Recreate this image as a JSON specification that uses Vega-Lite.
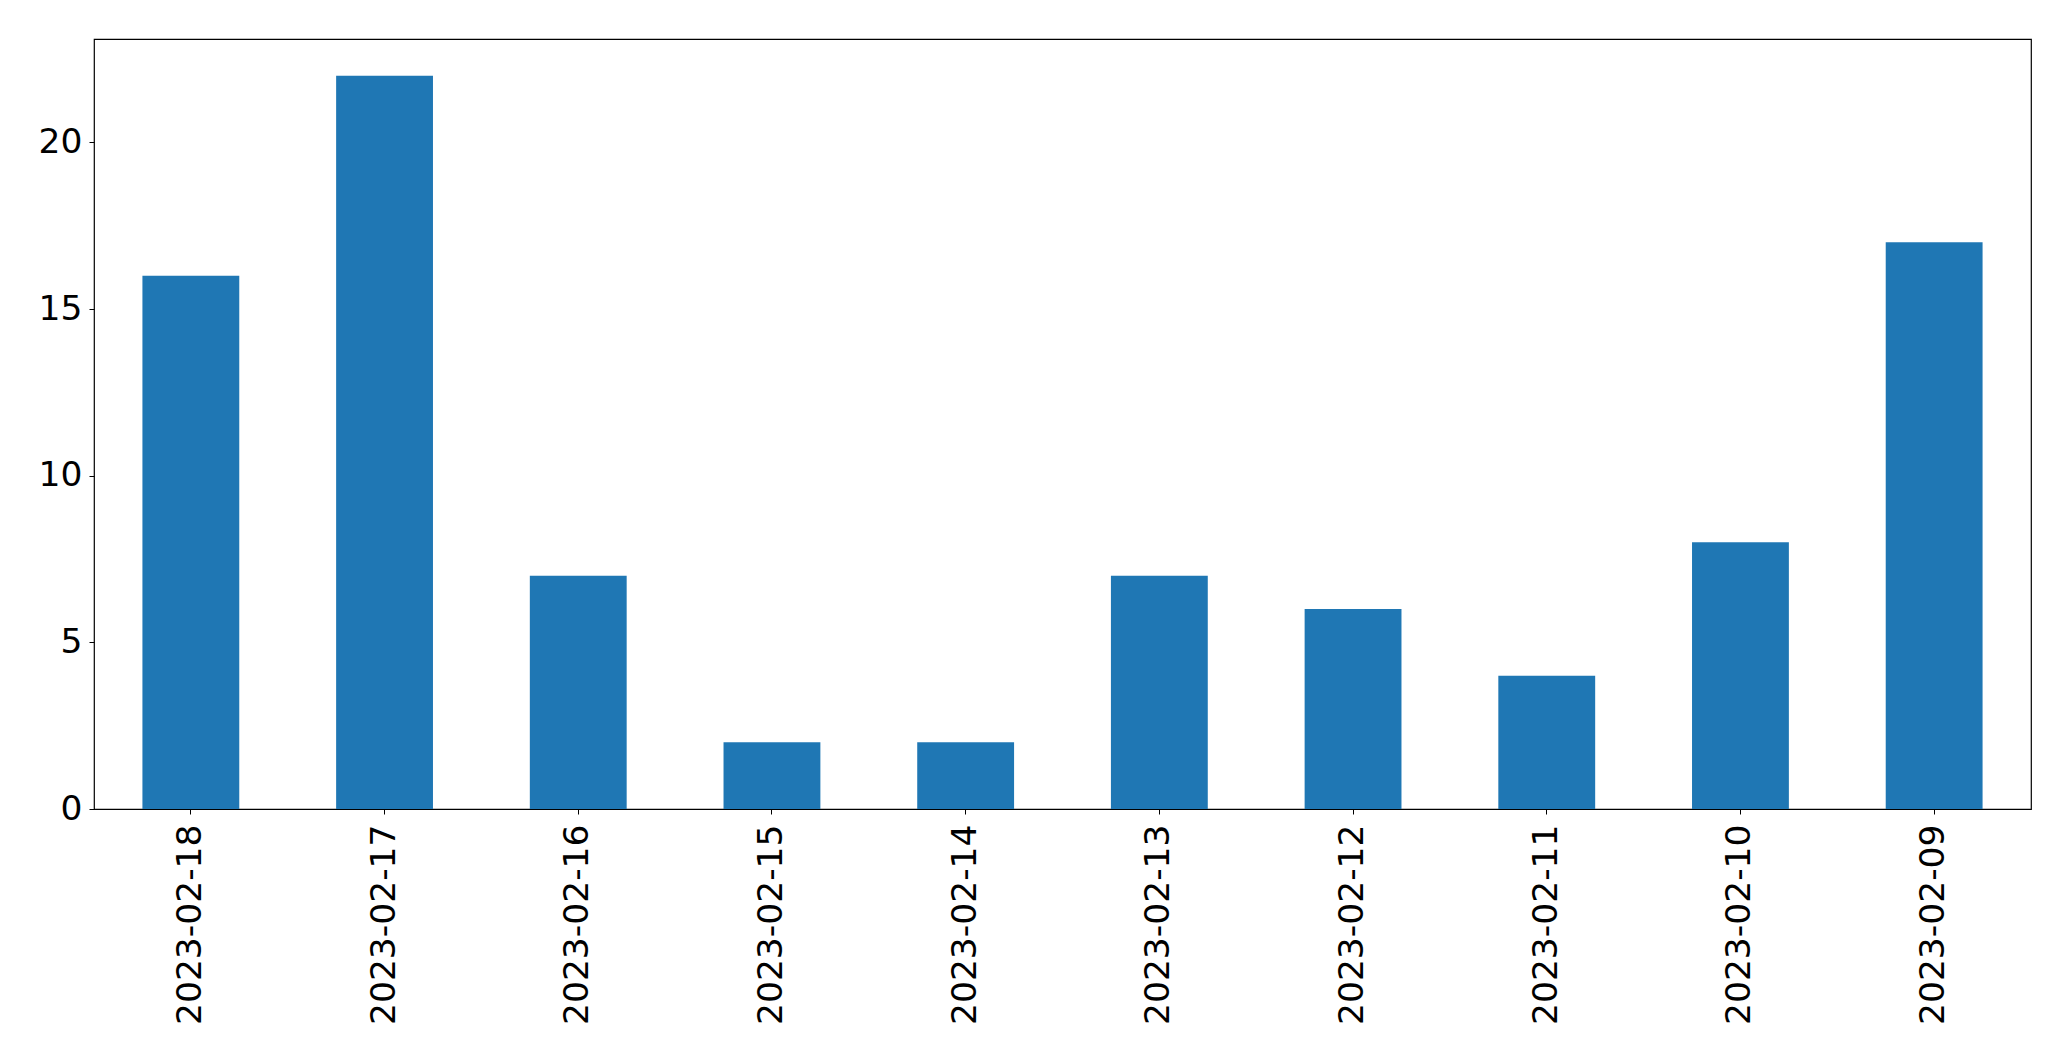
{
  "$schema": "https://vega.github.io/schema/vega-lite/v6.json",
  "width": 1937,
  "height": 770,
  "autosize": "none",
  "padding": {"left": 94, "top": 39, "right": 40, "bottom": 252},
  "background": "white",
  "data": {
    "values": [
      {"date": "2023-02-18", "count": 16},
      {"date": "2023-02-17", "count": 22},
      {"date": "2023-02-16", "count": 7},
      {"date": "2023-02-15", "count": 2},
      {"date": "2023-02-14", "count": 2},
      {"date": "2023-02-13", "count": 7},
      {"date": "2023-02-12", "count": 6},
      {"date": "2023-02-11", "count": 4},
      {"date": "2023-02-10", "count": 8},
      {"date": "2023-02-09", "count": 17}
    ]
  },
  "mark": {"type": "bar", "color": "#1f77b4"},
  "encoding": {
    "x": {
      "field": "date",
      "type": "nominal",
      "sort": null,
      "scale": {"paddingInner": 0.5, "paddingOuter": 0.25},
      "axis": {
        "title": null,
        "labelAngle": -90,
        "labelAlign": "right",
        "labelBaseline": "middle",
        "labelFont": "DejaVu Sans",
        "labelFontSize": 34.5,
        "labelColor": "black",
        "labelPadding": 10,
        "labelLimit": 400,
        "labelOverlap": false,
        "tickSize": 5,
        "tickColor": "black",
        "domain": false,
        "grid": false
      }
    },
    "y": {
      "field": "count",
      "type": "quantitative",
      "scale": {"domain": [0, 23.1], "nice": false, "zero": true},
      "axis": {
        "title": null,
        "values": [0, 5, 10, 15, 20],
        "labelFont": "DejaVu Sans",
        "labelFontSize": 34.5,
        "labelColor": "black",
        "labelPadding": 7,
        "labelBaseline": "middle",
        "labelOverlap": false,
        "tickSize": 5,
        "tickColor": "black",
        "domain": false,
        "grid": false
      }
    }
  },
  "config": {
    "view": {"stroke": "black", "strokeWidth": 1.2}
  }
}
